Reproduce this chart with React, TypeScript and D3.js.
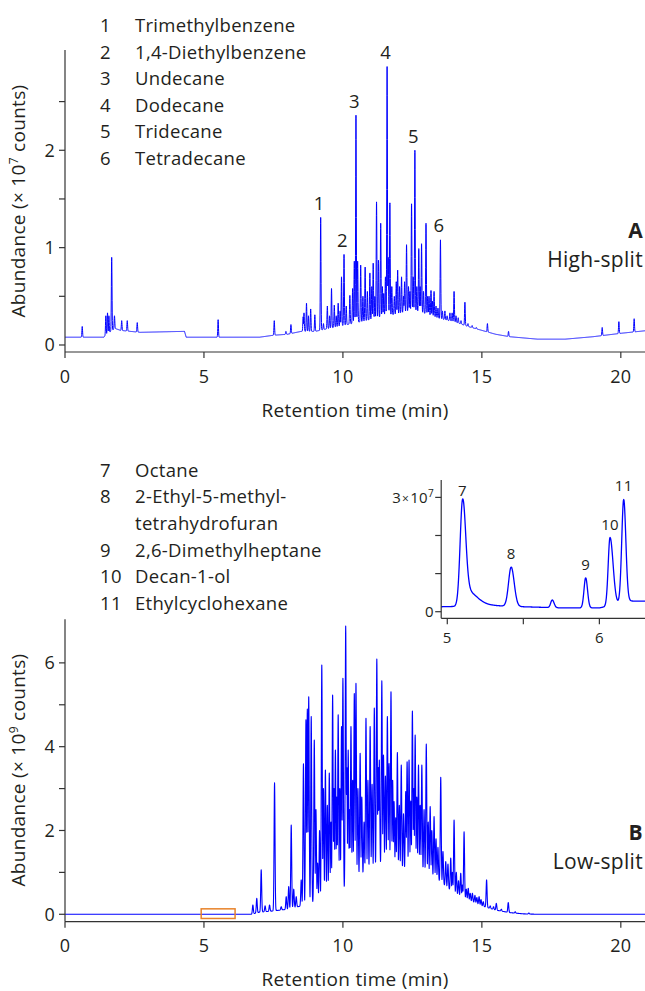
import React from 'react';
import * as d3 from 'd3';

// ---------- DATA ----------
const topLegendNums = ['1', '2', '3', '4', '5', '6'];
const topLegendNames = ['Trimethylbenzene', '1,4-Diethylbenzene', 'Undecane', 'Dodecane', 'Tridecane', 'Tetradecane'];
const bottomLegendNums = ['7', '8', '', '9', '10', '11'];
const bottomLegendNames = ['Octane', '2-Ethyl-5-methyl-', 'tetrahydrofuran', '2,6-Dimethylheptane', 'Decan-1-ol', 'Ethylcyclohexane'];

const xTicksMain = [0, 5, 10, 15, 20];
const yTicksTop = [0, 1, 2];
const yMinorTop = [0.5, 1.5, 2.5];
const yTicksBottom = [0, 2, 4, 6];
const yMinorBottom = [1, 3, 5];
const xTicksInset = [5, 5.5, 6];
const xLabelsInset = [5, 6];
const yTicksInset = [0, 1, 2, 3];

// High-split (A): baseline [min, ×10^7 counts]
const topBaseline: [number, number][] = [
  [0, 0.08], [1.4, 0.08], [1.45, 0.1], [1.8, 0.17], [2.0, 0.15], [2.7, 0.13], [4.3, 0.14], [4.36, 0.08],
  [7.0, 0.08], [7.5, 0.1], [8.0, 0.11], [8.5, 0.14], [9.0, 0.14], [9.5, 0.17], [10.0, 0.2], [10.5, 0.23],
  [11.0, 0.26], [11.5, 0.3], [12.0, 0.32], [12.5, 0.36], [13.0, 0.32], [13.5, 0.27], [14.0, 0.24],
  [14.5, 0.19], [15.0, 0.15], [15.5, 0.11], [16.0, 0.085], [17.0, 0.06], [18.0, 0.06], [19.0, 0.085],
  [20.0, 0.12], [21.0, 0.15],
];
// High-split (A): peaks [retention time, apex abundance ×10^7]
const topPeaks: [number, number][] = [
  [0.62, 0.19], [1.47, 0.3], [1.53, 0.33], [1.58, 0.3], [1.68, 0.9], [1.78, 0.3], [2.04, 0.25], [2.24, 0.25], [2.6, 0.23],
  [5.51, 0.26], [7.53, 0.25], [7.95, 0.14], [8.13, 0.21], [8.57, 0.29], [8.6, 0.33], [8.69, 0.43], [8.76, 0.3],
  [8.84, 0.37], [8.99, 0.31], [9.2, 1.31], [9.3, 0.22], [9.44, 0.4], [9.52, 0.3], [9.59, 0.58], [9.69, 0.41],
  [9.76, 0.3], [9.83, 0.43], [9.9, 0.35], [9.95, 0.7], [10.04, 0.93], [10.12, 0.4], [10.25, 0.51], [10.35, 0.58],
  [10.41, 0.86], [10.47, 2.36], [10.53, 0.86], [10.64, 0.82], [10.72, 0.5], [10.8, 0.8], [10.88, 0.55],
  [10.97, 0.74], [11.04, 0.6], [11.09, 0.84], [11.15, 0.5], [11.21, 1.47], [11.28, 0.87], [11.36, 1.25],
  [11.42, 0.6], [11.47, 0.53], [11.53, 0.7], [11.59, 2.86], [11.63, 0.9], [11.69, 1.46], [11.76, 0.6],
  [11.85, 0.5], [11.92, 0.65], [11.97, 0.77], [12.04, 0.6], [12.11, 0.7], [12.18, 0.5], [12.22, 0.65],
  [12.29, 1.03], [12.36, 0.6], [12.41, 0.55], [12.47, 1.45], [12.53, 0.7], [12.59, 2.0], [12.66, 0.6],
  [12.73, 0.99], [12.78, 0.6], [12.83, 1.04], [12.9, 0.55], [12.99, 1.25], [13.05, 0.5], [13.1, 0.5],
  [13.17, 0.56], [13.22, 0.45], [13.28, 0.55], [13.35, 0.4], [13.42, 0.38], [13.51, 1.08], [13.58, 0.35],
  [13.67, 0.35], [13.75, 0.3], [13.85, 0.33], [13.93, 0.33], [14.0, 0.55], [14.07, 0.3], [14.15, 0.28],
  [14.25, 0.25], [14.39, 0.44], [14.5, 0.22], [14.65, 0.2], [14.8, 0.18], [15.2, 0.22], [15.96, 0.14],
  [19.33, 0.18], [19.93, 0.24], [20.48, 0.27],
];
const topPeakLabels: [string, number, number][] = [
  ['1', 9.2, 1.31], ['2', 10.04, 0.93], ['3', 10.47, 2.36], ['4', 11.59, 2.86], ['5', 12.59, 2.0], ['6', 13.51, 1.08],
];

// Low-split (B): baseline [min, ×10^9 counts]
const bottomBaseline: [number, number][] = [
  [0, 0], [6.7, 0], [7.0, 0.05], [7.5, 0.08], [8.0, 0.12], [8.5, 0.2], [9.0, 0.3], [9.5, 0.45], [10.0, 0.55],
  [10.5, 0.8], [11.0, 1.0], [11.5, 1.2], [12.0, 1.0], [12.5, 1.05], [13.0, 0.95], [13.5, 0.78], [14.0, 0.5],
  [14.5, 0.35], [15.0, 0.2], [15.5, 0.1], [16.0, 0.04], [16.5, 0.01], [17.0, 0], [21.0, 0],
];
// Low-split (B): peaks [retention time, apex abundance ×10^9]
const bottomPeaks: [number, number][] = [
  [6.76, 0.22], [6.9, 0.38], [7.06, 1.06], [7.2, 0.2], [7.36, 0.22], [7.54, 3.14], [7.78, 0.18], [7.96, 0.42],
  [8.05, 0.66], [8.14, 2.13], [8.23, 0.6], [8.32, 0.42], [8.5, 0.82], [8.58, 3.59], [8.67, 4.64], [8.72, 4.9],
  [8.77, 5.19], [8.86, 4.72], [8.97, 4.16], [9.03, 2.5], [9.09, 1.22], [9.16, 2.0], [9.24, 5.95], [9.3, 3.0],
  [9.37, 3.44], [9.44, 2.6], [9.51, 3.37], [9.57, 2.2], [9.63, 5.23], [9.68, 3.0], [9.73, 3.92], [9.78, 2.8],
  [9.83, 4.76], [9.89, 3.0], [9.95, 4.48], [10.0, 5.63], [10.1, 6.88], [10.14, 3.5], [10.19, 3.92], [10.24, 2.5],
  [10.29, 4.48], [10.35, 3.2], [10.41, 5.27], [10.47, 5.51], [10.54, 3.0], [10.62, 3.84], [10.68, 2.8],
  [10.76, 2.2], [10.83, 4.68], [10.9, 3.2], [10.98, 4.48], [11.05, 3.1], [11.13, 4.92], [11.22, 6.09],
  [11.27, 3.5], [11.31, 3.68], [11.4, 5.57], [11.46, 3.8], [11.53, 3.3], [11.6, 4.72], [11.66, 3.6],
  [11.73, 5.31], [11.79, 3.2], [11.84, 2.69], [11.9, 2.3], [11.96, 3.86], [12.03, 2.6], [12.1, 3.56],
  [12.18, 2.4], [12.26, 2.93], [12.31, 3.64], [12.38, 3.68], [12.44, 2.7], [12.5, 4.85], [12.55, 3.0],
  [12.6, 4.28], [12.66, 2.8], [12.72, 3.56], [12.78, 2.6], [12.84, 3.56], [12.92, 2.5], [13.0, 4.06],
  [13.07, 2.2], [13.14, 2.57], [13.2, 2.0], [13.28, 2.33], [13.35, 1.8], [13.42, 1.6], [13.52, 3.27],
  [13.6, 1.5], [13.7, 1.26], [13.78, 1.2], [13.88, 1.34], [13.94, 1.0], [14.0, 2.25], [14.08, 1.0],
  [14.16, 0.8], [14.24, 0.98], [14.3, 0.7], [14.36, 1.97], [14.44, 0.6], [14.51, 0.62], [14.58, 0.5],
  [14.66, 0.5], [14.75, 0.45], [14.82, 0.4], [14.9, 0.42], [14.97, 0.35], [15.05, 0.3], [15.17, 0.82],
  [15.3, 0.2], [15.42, 0.18], [15.52, 0.26], [15.7, 0.12], [15.95, 0.28], [16.2, 0.06], [16.69, 0.03],
];

// Inset (5–6.3 min, ×10^7 counts)
const insetBaseline: [number, number][] = [
  [4.96, 0.13], [5.3, 0.16], [5.5, 0.13], [5.75, 0.1], [6.0, 0.1], [6.12, 0.2], [6.2, 0.28], [6.35, 0.28],
];
// [retention time, height above baseline, leading width σ, trailing width σ] (min)
const insetPeaks: [number, number, number, number][] = [
  [5.10, 2.55, 0.016, 0.02], [5.12, 0.42, 0.02, 0.07], [5.42, 1.03, 0.017, 0.02], [5.69, 0.2, 0.01, 0.012],
  [5.91, 0.79, 0.011, 0.012], [6.07, 1.79, 0.012, 0.02], [6.16, 2.71, 0.013, 0.014],
];
const insetPeakLabels: [string, number, number][] = [
  ['7', 5.10, 2.82], ['8', 5.42, 1.16], ['9', 5.91, 0.89], ['10', 6.07, 1.93], ['11', 6.16, 2.95],
];
const zoomRange: [number, number] = [4.9, 6.12];

// ---------- STYLE ----------
const FONT = "'Open Sans', 'Noto Sans', sans-serif";
const INK = '#231f20';
const AXIS = '#333333';
const TRACE = '#0000ff';
const ORANGE = '#e8822a';

// ---------- helpers ----------
function baselineFn(pts: [number, number][]) {
  return d3.scaleLinear().domain(pts.map(d => d[0])).range(pts.map(d => d[1])).clamp(true);
}

function buildSpikeTrace(t0: number, t1: number, step: number, base: [number, number][], peaks: [number, number][], sigma: number) {
  const b = baselineFn(base);
  const ts = d3.range(t0, t1 + step / 2, step).concat(peaks.map(p => p[0])).sort((a, c) => a - c);
  return ts.map(t => {
    const bt = b(t);
    let m = 0;
    for (const [pt, apex] of peaks) {
      const dt = t - pt;
      if (Math.abs(dt) > sigma * 6) continue;
      const h = Math.max(0, apex - b(pt));
      const v = h * Math.exp(-0.5 * (dt / sigma) * (dt / sigma));
      if (v > m) m = v;
    }
    return [t, bt + m] as [number, number];
  });
}

function buildInsetTrace(t0: number, t1: number, step: number) {
  const b = baselineFn(insetBaseline);
  return d3.range(t0, t1 + step / 2, step).map(t => {
    let s = b(t);
    for (const [pt, h, sl, sr] of insetPeaks) {
      const dt = t - pt;
      const sg = dt < 0 ? sl : sr;
      s += h * Math.exp(-0.5 * (dt / sg) * (dt / sg));
    }
    return [t, s] as [number, number];
  });
}

export default function App() {
  const W = 645, H = 991;

  const xT = d3.scaleLinear().domain([0, 20.87]).range([65, 645]);
  const yT = d3.scaleLinear().domain([-0.072, 3.03]).range([352, 50]);
  const xB = d3.scaleLinear().domain([0, 20.87]).range([65, 645]);
  const yB = d3.scaleLinear().domain([-0.177, 7.04]).range([921.7, 619.3]);
  const xI = d3.scaleLinear().domain([4.96, 6.3]).range([441.2, 645]);
  const yI = d3.scaleLinear().domain([-0.173, 3.456]).range([618.3, 480]);

  const topData = buildSpikeTrace(0, 20.9, 0.004, topBaseline, topPeaks, 0.012);
  const botData = buildSpikeTrace(0, 20.9, 0.004, bottomBaseline, bottomPeaks, 0.017);
  const insData = buildInsetTrace(4.96, 6.33, 0.002);

  const lineT = d3.line<[number, number]>().x(d => xT(d[0])).y(d => yT(d[1]));
  const lineB = d3.line<[number, number]>().x(d => xB(d[0])).y(d => yB(d[1]));
  const lineI = d3.line<[number, number]>().x(d => xI(d[0])).y(d => yI(d[1])).curve(d3.curveMonotoneX);

  const tk = 6;
  const fs = 18;
  const LS = 0.3;

  const yAxis = (x0: number, y: d3.ScaleLinear<number, number>, major: number[], minor: number[]) => (
    <g>
      <line x1={x0} x2={x0} y1={y.range()[1]} y2={y.range()[0]} stroke={AXIS} strokeWidth={1.2} />
      {major.concat(minor).map(v => (
        <line key={'t' + v} x1={x0 - tk} x2={x0} y1={y(v)} y2={y(v)} stroke={AXIS} strokeWidth={1.2} />
      ))}
      {major.map(v => (
        <text key={'l' + v} x={x0 - 10} y={y(v)} dy="0.36em" textAnchor="end" fontSize={fs} fill={INK}>{v}</text>
      ))}
    </g>
  );

  const xAxis = (y0: number, x: d3.ScaleLinear<number, number>, ticks: number[], labelY: number) => (
    <g>
      <line x1={x.range()[0]} x2={645} y1={y0} y2={y0} stroke={AXIS} strokeWidth={1.2} />
      {ticks.map(v => (
        <g key={v}>
          <line x1={x(v)} x2={x(v)} y1={y0} y2={y0 + tk} stroke={AXIS} strokeWidth={1.2} />
          <text x={x(v)} y={labelY} textAnchor="middle" fontSize={fs} fill={INK}>{v}</text>
        </g>
      ))}
    </g>
  );

  return (
    <svg width={W} height={H} style={{ position: 'absolute', left: 0, top: 0, background: '#fff' }} fontFamily={FONT} letterSpacing={LS}>
      <rect x={0} y={0} width={W} height={H} fill="#fff" />

      {/* ---------- TOP PANEL ---------- */}
      {topLegendNames.map((n, i) => (
        <g key={n}>
          <text x={100} y={32 + i * 26.6} fontSize={18.5} fill={INK}>{topLegendNums[i]}</text>
          <text x={135} y={32 + i * 26.6} fontSize={18.5} fill={INK}>{n}</text>
        </g>
      ))}
      <path d={lineT(topData) || ''} fill="none" stroke={TRACE} strokeWidth={1} strokeLinejoin="round" />
      {yAxis(xT(0), yT, yTicksTop, yMinorTop)}
      {xAxis(yT.range()[0], xT, xTicksMain, 383)}
      {topPeakLabels.map(([l, t, v]) => (
        <text key={l} x={xT(t) - 1.5} y={yT(v) - 7.5} textAnchor="middle" fontSize={18.5} fill={INK}>{l}</text>
      ))}
      <text transform="translate(24.5,201) rotate(-90)" textAnchor="middle" fontSize={19} fill={INK}>
        Abundance (× 10<tspan dy={-7} fontSize={12}>7</tspan><tspan dy={7}> counts)</tspan>
      </text>
      <text x={355} y={417} textAnchor="middle" fontSize={19} fill={INK}>Retention time (min)</text>
      <text x={643} y={238} textAnchor="end" fontSize={21} fontWeight="bold" fill={INK}>A</text>
      <text x={643} y={267} textAnchor="end" fontSize={21} fill={INK}>High-split</text>

      {/* ---------- BOTTOM PANEL ---------- */}
      {bottomLegendNames.map((n, i) => (
        <g key={n}>
          <text x={100} y={476.7 + i * 26.6} fontSize={18.5} fill={INK}>{bottomLegendNums[i]}</text>
          <text x={135} y={476.7 + i * 26.6} fontSize={18.5} fill={INK}>{n}</text>
        </g>
      ))}
      <path d={lineB(botData) || ''} fill="none" stroke={TRACE} strokeWidth={1.1} strokeLinejoin="round" />
      {yAxis(xB(0), yB, yTicksBottom, yMinorBottom)}
      {xAxis(yB.range()[0], xB, xTicksMain, 951.7)}
      <rect x={xB(zoomRange[0])} y={yB(0.13)} width={xB(zoomRange[1]) - xB(zoomRange[0])} height={yB(-0.1) - yB(0.13)}
        fill="none" stroke={ORANGE} strokeWidth={1.5} />
      <text transform="translate(24.5,770) rotate(-90)" textAnchor="middle" fontSize={19} fill={INK}>
        Abundance (× 10<tspan dy={-7} fontSize={12}>9</tspan><tspan dy={7}> counts)</tspan>
      </text>
      <text x={355} y={986} textAnchor="middle" fontSize={19} fill={INK}>Retention time (min)</text>
      <text x={643} y={840} textAnchor="end" fontSize={21} fontWeight="bold" fill={INK}>B</text>
      <text x={643} y={869} textAnchor="end" fontSize={21} fill={INK}>Low-split</text>

      {/* ---------- INSET ---------- */}
      <path d={lineI(insData) || ''} fill="none" stroke={TRACE} strokeWidth={1.3} />
      <line x1={xI.range()[0]} x2={xI.range()[0]} y1={yI.range()[1]} y2={yI.range()[0]} stroke={AXIS} strokeWidth={1.2} />
      <line x1={xI.range()[0]} x2={645} y1={yI.range()[0]} y2={yI.range()[0]} stroke={AXIS} strokeWidth={1.2} />
      {yTicksInset.map(v => (
        <line key={v} x1={xI.range()[0] - 6} x2={xI.range()[0]} y1={yI(v)} y2={yI(v)} stroke={AXIS} strokeWidth={1.2} />
      ))}
      {xTicksInset.map(v => (
        <line key={v} x1={xI(v)} x2={xI(v)} y1={yI.range()[0]} y2={yI.range()[0] + 6} stroke={AXIS} strokeWidth={1.2} />
      ))}
      {xLabelsInset.map(v => (
        <text key={v} x={xI(v)} y={643} textAnchor="middle" fontSize={15} fill={INK}>{v}</text>
      ))}
      <text x={434} y={yI(0)} dy="0.36em" textAnchor="end" fontSize={15} fill={INK}>0</text>
      <text x={434} y={yI(3)} dy="0.36em" textAnchor="end" fontSize={15} fill={INK}>
        3<tspan fontSize={12} dx={1}>×</tspan><tspan dx={1}>10</tspan><tspan dy={-6} fontSize={10}>7</tspan>
      </text>
      {insetPeakLabels.map(([l, t, v]) => (
        <text key={l} x={xI(t)} y={yI(v) - 8} textAnchor="middle" fontSize={15} fill={INK}>{l}</text>
      ))}
    </svg>
  );
}
